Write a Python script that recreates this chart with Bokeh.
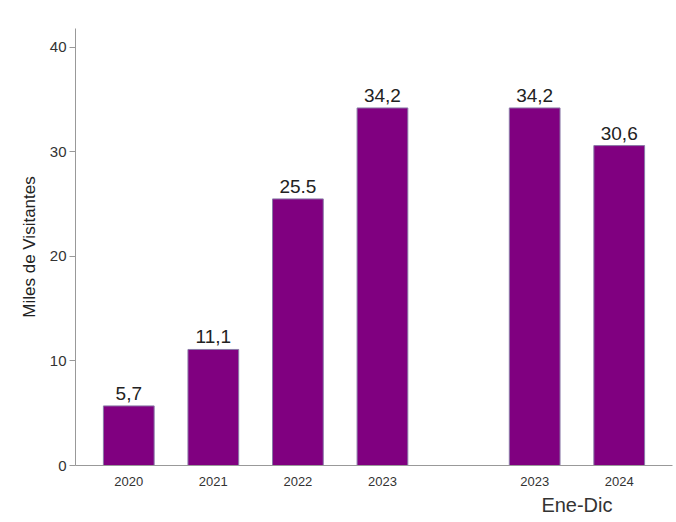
from bokeh.plotting import figure
from bokeh.models import ColumnDataSource, FactorRange, Range1d, LabelSet
from bokeh.core.properties import value
from bokeh.embed import file_html
from bokeh.resources import INLINE

groups = [" ", " ", " ", " ", "Ene-Dic", "Ene-Dic"]
years = ["2020", "2021", "2022", "2023", "2023", "2024"]
values = [5.7, 11.1, 25.5, 34.2, 34.2, 30.6]
labels = ["5,7", "11,1", "25.5", "34,2", "34,2", "30,6"]
y_ticks = [0, 10, 20, 30, 40]

factors = list(zip(groups, years))
src = ColumnDataSource(dict(x=factors, top=values, label=labels))

xr = FactorRange(*factors, group_padding=0.8, range_padding=0.13,
                 range_padding_units="absolute")
p = figure(width=676, height=522, x_range=xr, y_range=Range1d(0, 41.8),
           output_backend="svg", toolbar_location=None,
           min_border_left=75, min_border_right=4, min_border_top=28,
           min_border_bottom=57)
p.vbar(x="x", top="top", width=0.6, source=src, fill_color="#800080",
       line_color="#8a7aa8", line_width=1)

lbl = LabelSet(x="x", y="top", text="label", source=src, text_align="center",
               text_baseline="bottom", y_offset=6,
               text_font=value("Liberation Sans"),
               text_font_size="19px", text_color="#222222")
p.add_layout(lbl)

p.xgrid.grid_line_color = None
p.ygrid.grid_line_color = None
p.outline_line_color = None

p.yaxis.ticker = y_ticks
p.yaxis.axis_label = "Miles de Visitantes"
p.yaxis.axis_label_text_font = "Liberation Sans"
p.yaxis.axis_label_text_font_style = "normal"
p.yaxis.axis_label_text_font_size = "17px"
p.yaxis.axis_label_text_color = "#222222"
p.yaxis.axis_label_standoff = 8
p.yaxis.major_label_text_font = "Liberation Sans"
p.yaxis.major_label_text_font_size = "15px"
p.yaxis.major_label_text_color = "#333333"
p.yaxis.major_label_standoff = 3
p.yaxis.axis_line_color = "#999999"
p.yaxis.major_tick_line_color = "#999999"
p.yaxis.major_tick_out = 6
p.yaxis.major_tick_in = 0
p.yaxis.minor_tick_line_color = None

p.xaxis.axis_line_color = "#999999"
p.xaxis.major_tick_line_color = None
p.xaxis.minor_tick_line_color = None
p.xaxis.major_label_text_font = "Liberation Sans"
p.xaxis.major_label_text_font_size = "13px"
p.xaxis.major_label_text_color = "#333333"
p.xaxis.major_label_standoff = 5
p.xaxis.group_text_font = "Liberation Sans"
p.xaxis.group_text_font_size = "20px"
p.xaxis.group_text_font_style = "normal"
p.xaxis.group_text_color = "#333333"
p.xaxis.separator_line_color = None

open("out.html", "w").write(file_html(p, INLINE))
